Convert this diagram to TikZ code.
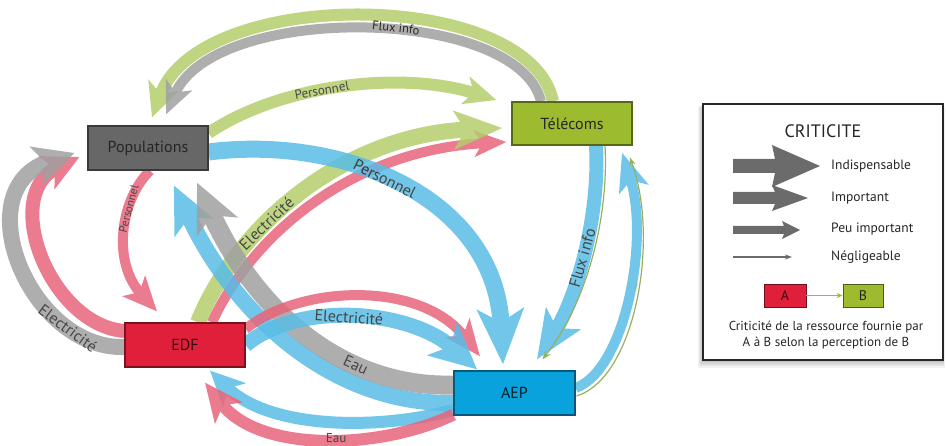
\documentclass[tikz,border=0pt]{standalone}
\usepackage{fontspec}
\setmainfont{PT Sans}
\usetikzlibrary{arrows.meta,calc}
\definecolor{cgray}{RGB}{160,160,160}
\definecolor{cgreen}{RGB}{180,206,108}
\definecolor{cred}{RGB}{232,100,122}
\definecolor{cblue}{RGB}{88,188,230}
\definecolor{cpop}{RGB}{103,103,103}
\definecolor{ctel}{RGB}{156,187,47}
\definecolor{cedf}{RGB}{224,32,58}
\definecolor{caep}{RGB}{10,162,220}
\definecolor{cleg}{RGB}{107,107,107}
\definecolor{ctxt}{RGB}{38,38,38}
\pgfdeclarelayer{bg}
\pgfsetlayers{bg,main}
\newcommand\band[2]{\begin{scope}[transparency group,opacity=.85]\draw[#1]#2;\end{scope}}
\tikzset{
  box/.style={draw=#1!55!black, fill=#1, line width=1.2pt, minimum width=120pt,
    minimum height=44pt, inner sep=0pt, font=\fontsize{16}{18}\selectfont, text=ctxt},
  lbl/.style={font=\fontsize{16}{18}\selectfont, text=ctxt, sloped, inner sep=0pt},
  tip/.style n args={3}{-{Stealth[length=#1pt,width=#2pt,inset=#3pt]}},
  legtxt/.style={font=\fontsize{13.5}{15}\selectfont, text=ctxt, anchor=west, inner sep=0pt},
}
\begin{document}
\begin{tikzpicture}[x=1pt,y=-1pt]
\path[use as bounding box] (0,0) rectangle (946,446);
% nodes
\node[box=cpop] (pop) at (148,148) {Populations};
\node[box=ctel, minimum height=43pt] (tel) at (572,123.5) {Télécoms};
\node[box=cedf, text=black!75!cedf] (edf) at (185,345) {EDF};
\node[box=caep, minimum width=121pt, text=black!80!caep] (aep) at (514.5,393) {AEP};

\begin{pgfonlayer}{bg}
% Flux info (top arc)
\band{cgreen, line width=12pt, tip={34}{32}{9}}{($(tel.north)+(-19,0)$) .. controls (530,-12) and (200,-15) .. ($(pop.north)+(4,-8)$)}
\band{cgray, line width=10pt, tip={32}{28}{8}}{($(tel.north)+(-31,0)$) .. controls (518,6) and (215,2) .. ($(pop.north)+(18,-11)$)}
\node[lbl, font=\fontsize{12.5}{14}\selectfont, rotate=-6, sloped=false] (fluxtop) at (396,28) {Flux info};
% Personnel green
\band{cgreen, line width=12pt, tip={32}{28}{8}}{($(pop.east)+(0,-15)$) .. controls (280,85) and (400,70) .. node[lbl, pos=.43, font=\fontsize{13}{15}\selectfont] {Personnel} ($(tel.west)+(-15,-23.5)$)}
% Electricite green + red to Telecoms
\band{cred, line width=10pt, tip={32}{26}{8}}{($(edf.north)+(27,0)$) .. controls (252,235) and (352,150) .. ($(tel.west)+(-5,18.5)$)}
\band{cgreen, line width=16pt, tip={48}{38}{11}}{($(edf.north)+(13,0)$) .. controls (235,230) and (340,135) .. node[lbl, pos=.37] {Electricité} ($(tel.west)+(-9,4.5)$)}
% Personnel blue to AEP
\band{cblue, line width=17pt, tip={55}{46}{13}}{($(pop.east)+(0,4)$) .. controls (340,135) and (495,195) .. node[lbl, pos=.45] {Personnel} ($(aep.north)+(-11.5,-6)$)}
% Personnel red to EDF
\band{cred, line width=10pt, tip={34}{30}{8}}{($(pop.south)+(2,0)$) .. controls (120,200) and (112,262) .. node[lbl, pos=.33, font=\fontsize{11.5}{13}\selectfont] {Personnel} ($(edf.north)+(-28,-11)$)}
% Electricite red + gray to Populations
\band{cred, line width=14pt, tip={36}{36}{9}}{($(edf.west)+(0,-14)$) .. controls (50,325) and (0,195) .. ($(pop.west)+(-8,9)$)}
\band{cgray, line width=16pt, tip={40}{40}{10}}{($(edf.west)+(0,2)$) .. controls (30,350) and (-35,190) .. node[lbl, pos=.22] {Electricité} ($(pop.west)+(-13,5)$)}
% Eau blue + gray to Populations
\band{cblue, line width=16pt, tip={46}{42}{11}}{($(aep.west)+(0,10)$) .. controls (340,405) and (240,325) .. ($(pop.south)+(26,15)$)}
\band{cgray, line width=19pt, tip={48}{44}{12}}{($(aep.west)+(0,-8)$) .. controls (350,388) and (260,320) .. node[lbl, pos=.33] {Eau} ($(pop.south)+(49,12)$)}
% Electricite red + blue EDF -> AEP
\band{cred, line width=10pt, tip={36}{30}{9}}{($(edf.east)+(0,-16)$) .. controls (300,285) and (420,280) .. ($(aep.north)+(-34.5,-14)$)}
\band{cblue, line width=15pt, tip={46}{44}{11}}{(edf.east) .. controls (300,300) and (410,310) .. node[lbl, pos=.47] {Electricité} ($(aep.north)+(-37.5,-1)$)}
% Eau blue + red AEP -> EDF (bottom)
\band{cblue, line width=12pt, tip={34}{32}{9}}{($(aep.west)+(0,17)$) .. controls (380,430) and (270,430) .. ($(edf.south)+(25,3)$)}
\band{cred, line width=12pt, tip={38}{34}{9}}{($(aep.south west)+(0,-1)$) .. controls (380,450) and (260,453) .. node[lbl, pos=.45, font=\fontsize{13}{15}\selectfont, yshift=1pt] {Eau} ($(edf.south)+(20,15)$)}
% Flux info Telecoms -> AEP
\band{cblue, line width=14pt, tip={48}{40}{11}}{($(tel.south)+(24,0)$) .. controls (600,220) and (575,300) .. node[lbl, pos=.5] {Flux info} ($(aep.north)+(22.5,-11)$)}
\draw[cgreen!85!black, line width=1.2pt, -{Stealth[length=9pt,width=7pt]}] ($(tel.south)+(33,0)$) .. controls (609,222) and (585,305) .. ($(aep.north)+(28,-11)$);
% Eau AEP -> Telecoms
\band{cblue, line width=10pt, tip={38}{30}{9}}{($(aep.east)+(0,-5)$) .. controls (625,370) and (650,240) .. ($(tel.south)+(50,7)$)}
\draw[cgreen!85!black, line width=1.2pt, -{Stealth[length=8pt,width=6pt]}] ($(aep.east)+(1,3)$) .. controls (635,378) and (660,240) .. node[pos=.55, sloped, above=1pt, font=\fontsize{4}{5}\selectfont, inner sep=0pt] {Eau} ($(tel.south)+(58,12)$);
\end{pgfonlayer}

% legend
\foreach \i in {1,...,5} {
  \fill[black, opacity=.05] (703-\i,104+\i*.6) rectangle (943+\i*.3,360+\i*1.6);
}
\node[draw=black!85, fill=white, line width=2pt, minimum width=240pt, minimum height=256pt, inner sep=0pt] (legend) at (823,232) {};
\node[font=\fontsize{18}{20}\selectfont, text=ctxt, inner sep=0pt] (crit) at (823,131) {CRITICITE};
\fill[cleg] (733,159) -- (775,159) -- (772,145) -- (820,166) -- (772,187) -- (775,173) -- (733,173) -- cycle;
\fill[cleg] (733,192) -- (775,192) -- (772,185) -- (808,198) -- (772,211) -- (775,204) -- (733,204) -- cycle;
\fill[cleg] (733,226) -- (784,226) -- (782,221) -- (800,230) -- (782,239) -- (784,234) -- (733,234) -- cycle;
\draw[cleg, line width=1.3pt, -{Stealth[length=7pt,width=5pt]}] (733,257) -- (792,257);
\node[legtxt] (l1) at (831,166) {Indispensable};
\node[legtxt] (l2) at (831,198) {Important};
\node[legtxt] (l3) at (831,229) {Peu important};
\node[legtxt] (l4) at (831,257) {Négligeable};
\node[draw=cedf!50!black, fill=cedf, line width=.8pt, minimum width=42pt, minimum height=23pt, inner sep=0pt, font=\fontsize{14}{16}\selectfont, text=black!75!cedf] (A) at (785,295.5) {A};
\node[draw=ctel!50!black, fill=ctel, line width=.8pt, minimum width=40pt, minimum height=23pt, inner sep=0pt, font=\fontsize{14}{16}\selectfont, text=ctxt] (B) at (863,295.5) {B};
\draw[ctel, line width=1.3pt, -{Stealth[length=6pt,width=5pt]}] (A) -- (B);
\node[font=\fontsize{13}{16}\selectfont, text=ctxt, align=center, inner sep=0pt] (note) at (826,335) {Criticité de la ressource fournie par\\A à B selon la perception de B};
\end{tikzpicture}
\end{document}
